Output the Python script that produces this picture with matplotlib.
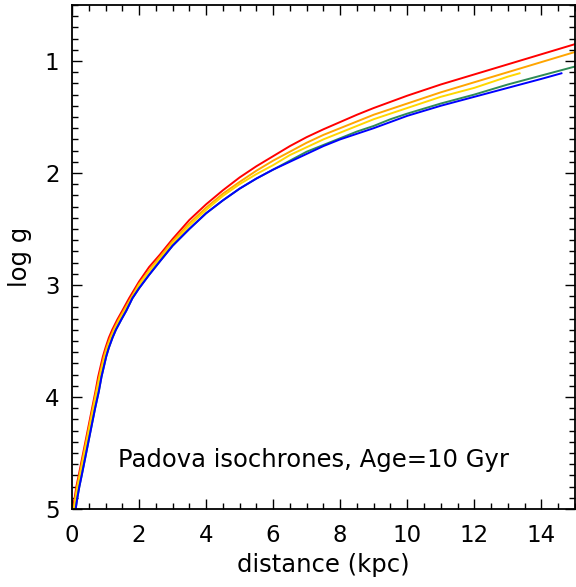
import matplotlib
matplotlib.use('Agg')
import matplotlib.pyplot as plt
from matplotlib.ticker import MultipleLocator

# Padova isochrones, Age = 10 Gyr : log g against distance (kpc)
# lower (steep) part: distance at fixed log g levels
g_steep = [5.00, 4.90, 4.80, 4.70, 4.55, 4.40, 4.25, 4.10, 3.95, 3.82, 3.73, 3.64, 3.56,
           3.47, 3.40, 3.31, 3.23, 3.12]
d_red_steep = [0.03, 0.08, 0.13, 0.20, 0.30, 0.40, 0.50, 0.60, 0.70, 0.78, 0.85, 0.92, 1.00,
               1.10, 1.20, 1.35, 1.50, 1.70]
d_orange_steep = [0.05, 0.10, 0.15, 0.22, 0.32, 0.42, 0.52, 0.62, 0.72, 0.81, 0.88, 0.95, 1.03,
                  1.14, 1.24, 1.39, 1.54, 1.75]
d_yellow_steep = [0.06, 0.11, 0.17, 0.24, 0.34, 0.44, 0.54, 0.64, 0.74, 0.83, 0.90, 0.98, 1.06,
                  1.17, 1.27, 1.42, 1.58, 1.78]
d_green_steep = [0.11, 0.16, 0.22, 0.29, 0.39, 0.49, 0.59, 0.69, 0.80, 0.88, 0.95, 1.02, 1.10,
                 1.21, 1.31, 1.47, 1.62, 1.80]
d_blue_steep = [0.11, 0.16, 0.22, 0.29, 0.39, 0.49, 0.59, 0.69, 0.80, 0.88, 0.95, 1.02, 1.10,
                1.21, 1.31, 1.47, 1.62, 1.80]

# upper part: log g at fixed distances
d_grid = [2.0, 2.3, 2.62, 3.0, 3.5, 4.0, 4.5, 5.0, 5.5, 6.0, 6.5, 7.0, 7.5, 8.0, 8.5, 9.0,
          9.5, 10.0, 11.0, 12.0, 13.0, 14.0, 15.0]
g_red = [2.97, 2.84, 2.73, 2.59, 2.42, 2.28, 2.155, 2.04, 1.94, 1.85, 1.76, 1.68, 1.61, 1.545,
         1.48, 1.42, 1.365, 1.31, 1.21, 1.12, 1.03, 0.94, 0.85]
g_orange = [2.99, 2.87, 2.75, 2.61, 2.45, 2.31, 2.185, 2.08, 1.98, 1.89, 1.81, 1.73, 1.66, 1.60,
            1.54, 1.48, 1.43, 1.38, 1.28, 1.19, 1.10, 1.01, 0.92]
d_yellow_end = [13.35]
g_yellow = [3.00, 2.88, 2.77, 2.63, 2.47, 2.33, 2.205, 2.10, 2.01, 1.93, 1.84, 1.77, 1.70, 1.64,
            1.58, 1.52, 1.47, 1.42, 1.32, 1.24, 1.14, 1.11]
g_green = [3.03, 2.91, 2.79, 2.65, 2.50, 2.36, 2.245, 2.14, 2.05, 1.97, 1.89, 1.81, 1.75, 1.69,
           1.63, 1.58, 1.52, 1.47, 1.38, 1.30, 1.21, 1.13, 1.05]
d_blue_end = [14.6]
g_blue = [3.03, 2.91, 2.79, 2.65, 2.50, 2.36, 2.245, 2.14, 2.05, 1.97, 1.90, 1.83, 1.76, 1.70,
          1.65, 1.60, 1.545, 1.49, 1.40, 1.32, 1.24, 1.16, 1.11]

plt.rcParams['font.family'] = 'DejaVu Sans'

fig = plt.figure(figsize=(5.76, 5.87), dpi=100)
ax = fig.add_axes([0.125, 0.133, 0.873, 0.8585])

lw = 1.4
ax.plot(d_red_steep + d_grid, g_steep + g_red, color='#ff0000', lw=lw)
ax.plot(d_orange_steep + d_grid, g_steep + g_orange, color='#ffa500', lw=lw)
ax.plot(d_yellow_steep + d_grid[:-2] + d_yellow_end, g_steep + g_yellow, color='#ffd700', lw=lw)
ax.plot(d_green_steep + d_grid, g_steep + g_green, color='#2e8b57', lw=lw)
ax.plot(d_blue_steep + d_grid[:-1] + d_blue_end, g_steep + g_blue, color='#0000ff', lw=lw)

ax.set_xlim(0, 15)
ax.set_ylim(5.0, 0.5)

ax.xaxis.set_major_locator(MultipleLocator(2))
ax.xaxis.set_minor_locator(MultipleLocator(0.5))
ax.yaxis.set_major_locator(MultipleLocator(1))
ax.yaxis.set_minor_locator(MultipleLocator(0.1))
ax.tick_params(which='both', direction='in', top=True, right=True, width=1.0, labelsize=16.5)
ax.tick_params(which='major', length=7.5)
ax.tick_params(which='minor', length=4)
ax.tick_params(axis='x', pad=11)
ax.tick_params(axis='y', pad=9)
for s in ax.spines.values():
    s.set_linewidth(1.3)

ax.set_xlabel('distance (kpc)', fontsize=17.5, labelpad=4)
ax.set_ylabel('log g', fontsize=17.5, labelpad=9)

ax.text(1.37, 4.63, 'Padova isochrones, Age=10 Gyr', fontsize=17.5, ha='left', va='baseline')

fig.savefig('out.png', dpi=100)
